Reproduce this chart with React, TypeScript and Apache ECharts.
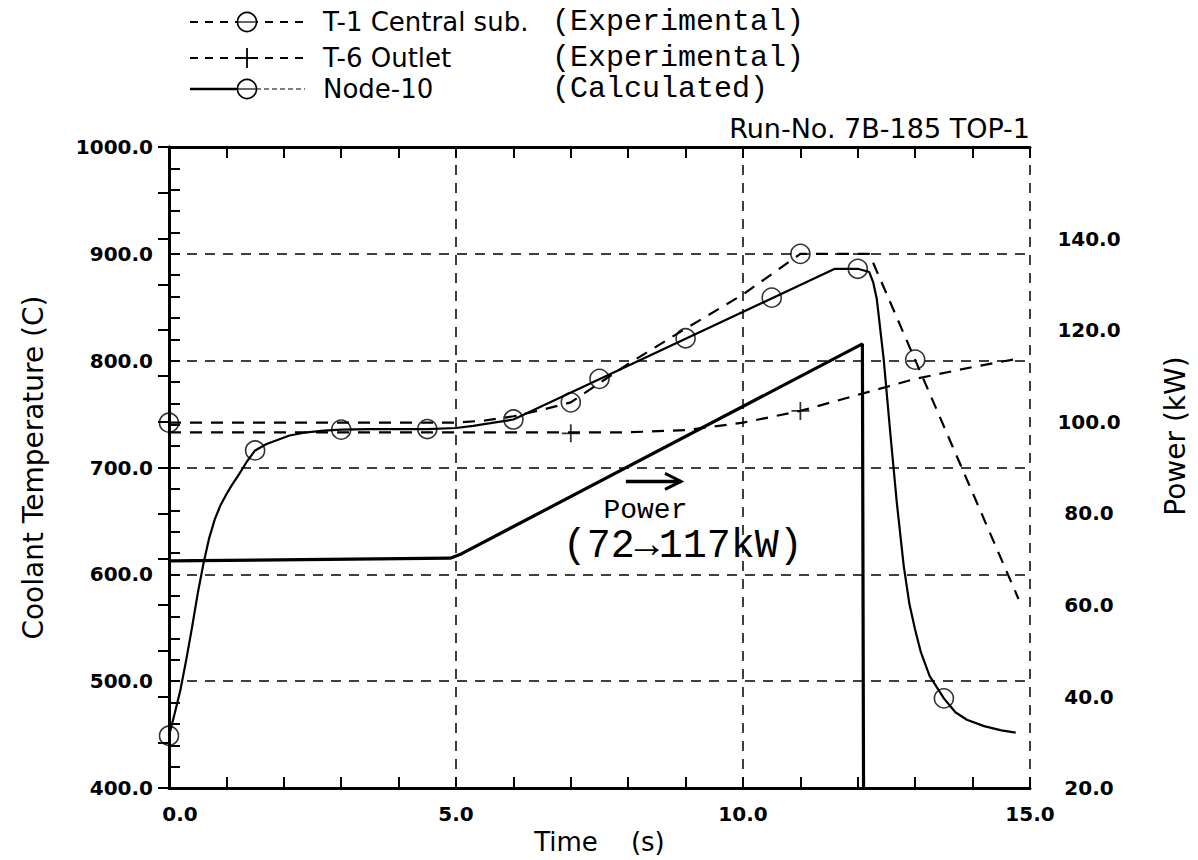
import React, { useEffect, useRef } from 'react';
import * as echarts from 'echarts';

// ---- data ----
const node10Times = [0, 0.1, 0.2, 0.3, 0.4, 0.5, 0.6, 0.7, 0.8, 0.9, 1.0, 1.1, 1.2, 1.35, 1.5, 1.7, 1.9, 2.1, 2.4, 2.7, 3.0, 3.5, 4.0, 4.5, 5.0, 5.3, 5.6, 6.0, 11.6, 12.0, 12.2, 12.27, 12.33, 12.45, 12.57, 12.68, 12.8, 12.9, 13.0, 13.1, 13.25, 13.5, 13.7, 13.9, 14.2, 14.5, 14.75];
const node10Temps = [449, 470, 492, 520, 550, 582, 610, 634, 652, 665, 675, 684, 692, 705, 716, 722, 726, 730, 733, 734.5, 735.5, 736, 736, 736, 737, 739, 741.5, 745, 886, 886, 883, 873, 858, 802, 730, 667, 608, 572, 548, 527, 505, 484, 471, 464, 458, 454, 452];
const node10MarkTimes = [0, 1.5, 3.0, 4.5, 6.0, 7.5, 9.0, 10.5, 12.0, 13.5];
const node10MarkTemps = [449, 716, 735.5, 736, 745, 783, 821, 859, 886, 484];

const t1Times = [0, 5.0, 5.5, 6.0, 6.5, 7.0, 8.0, 9.0, 10.0, 11.0, 12.2, 14.8];
const t1Temps = [742, 742, 744, 748, 754, 761, 797, 830, 862, 900, 900, 577];
const t1MarkTimes = [0, 7.0, 11.0, 13.0];
const t1MarkTemps = [742, 761, 900, 801];

const t6Times = [0, 8.0, 9.0, 10.0, 11.0, 12.0, 13.0, 14.0, 14.8];
const t6Temps = [733, 733, 735, 742, 753, 768, 783, 794, 802];
const t6MarkTimes = [7.0, 11.0];
const t6MarkTemps = [732, 753];

const powerTimes = [0, 4.9, 5.1, 12.08, 12.1];
const powerKW = [69.6, 70.2, 71.2, 117.0, 20];

const legendNames = ['T-1 Central sub.', 'T-6 Outlet', 'Node-10'];
const legendTags = ['(Experimental)', '(Experimental)', '(Calculated)'];
const runLabel = 'Run-No. 7B-185 TOP-1';

const pairs = (ts: number[], vs: number[]) => ts.map((t, i) => [t, vs[i]]);

export default function App() {
  const ref = useRef<HTMLDivElement>(null);
  useEffect(() => {
    const chart = echarts.init(ref.current!, null, { renderer: 'svg' });
    const black = '#000';
    const sans = 'DejaVu Sans';
    const labelFont = { fontFamily: sans, fontWeight: 'bold', fontSize: 20, color: black };
    const tick = { show: true, inside: true, length: 11, lineStyle: { color: black, width: 2 } };
    const minor = (n: number) => ({ show: true, splitNumber: n, length: 11, lineStyle: { color: black, width: 2 } });
    const dashedGrid = { show: true, lineStyle: { color: black, width: 1.5, type: [10, 8] } };
    const plus = 'path://M0,-10L0,10M-10,0L10,0';

    chart.setOption({
      animation: false,
      backgroundColor: '#fff',
      grid: { left: 169, right: 168, top: 147, bottom: 70, containLabel: false },
      xAxis: [
        {
          type: 'value', min: 0, max: 15, interval: 5, position: 'bottom',
          axisLine: { show: true, lineStyle: { color: black, width: 3 } },
          axisTick: tick, minorTick: minor(5),
          axisLabel: {
            ...labelFont, margin: 16,
            formatter: (v: number) => (v === 0 ? '{z|' + v.toFixed(1) + '}' : v.toFixed(1)),
            rich: { z: { ...labelFont, padding: [0, 0, 0, 22] } },
          },
          splitLine: dashedGrid,
          name: 'Time    (s)', nameLocation: 'middle', nameGap: 40,
          nameTextStyle: { fontFamily: sans, fontSize: 26, color: black },
        },
        {
          type: 'value', min: 0, max: 15, interval: 1, position: 'top',
          axisLine: { show: true, lineStyle: { color: black, width: 3 } },
          axisTick: tick, axisLabel: { show: false }, splitLine: { show: false },
        },
      ],
      yAxis: [
        {
          type: 'value', min: 400, max: 1000, interval: 100, position: 'left',
          axisLine: { show: true, lineStyle: { color: black, width: 3 } },
          axisTick: tick, minorTick: minor(5),
          axisLabel: { ...labelFont, margin: 16, formatter: (v: number) => v.toFixed(1) },
          splitLine: dashedGrid,
          name: 'Coolant Temperature (C)', nameLocation: 'middle', nameGap: 122,
          nameTextStyle: { fontFamily: sans, fontSize: 28, color: black },
        },
        {
          type: 'value', min: 20, max: 160, interval: 20, position: 'right',
          axisLine: { show: true, lineStyle: { color: black, width: 3 } },
          axisTick: tick, minorTick: minor(2),
          axisLabel: { ...labelFont, margin: 59, align: 'center', formatter: (v: number) => (v >= 160 ? '' : v.toFixed(1)) },
          splitLine: { show: false },
        },
      ],
      series: [
        {
          name: 'T-1 Central sub.', type: 'line', data: pairs(t1Times, t1Temps), showSymbol: false,
          lineStyle: { color: black, width: 2.2, type: [12, 9] }, z: 3,
        },
        {
          name: 'T-1 marks', type: 'scatter', data: pairs(t1MarkTimes, t1MarkTemps), symbol: 'circle', symbolSize: 19,
          itemStyle: { color: 'rgba(0,0,0,0)', borderColor: black, borderWidth: 1.6 }, z: 4,
        },
        {
          name: 'T-6 Outlet', type: 'line', data: pairs(t6Times, t6Temps), showSymbol: false,
          lineStyle: { color: black, width: 2.2, type: [12, 9] }, z: 3,
        },
        {
          name: 'T-6 marks', type: 'scatter', data: pairs(t6MarkTimes, t6MarkTemps), symbol: plus, symbolSize: 18,
          itemStyle: { color: 'rgba(0,0,0,0)', borderColor: black, borderWidth: 1.8 }, z: 4,
        },
        {
          name: 'Node-10', type: 'line', data: pairs(node10Times, node10Temps), showSymbol: false,
          lineStyle: { color: black, width: 2.2 }, z: 3,
        },
        {
          name: 'Node-10 marks', type: 'scatter', data: pairs(node10MarkTimes, node10MarkTemps), symbol: 'circle', symbolSize: 19,
          itemStyle: { color: 'rgba(0,0,0,0)', borderColor: black, borderWidth: 1.6 }, z: 4,
        },
        {
          name: 'Power', type: 'line', yAxisIndex: 1, data: pairs(powerTimes, powerKW), showSymbol: false,
          lineStyle: { color: black, width: 3.2 }, z: 3,
        },
      ],
    });

    const px = (t: number, v: number) => chart.convertToPixel({ xAxisIndex: 0, yAxisIndex: 0 }, [t, v]) as number[];
    const a0 = px(7.96, 687);
    const a1 = px(8.92, 687);
    const pw = px(8.3, 660);
    const pr = px(8.95, 626);

    const rows = [22, 58, 89];
    const legendEls: any[] = [];
    rows.forEach((y, i) => {
      if (i < 2) {
        legendEls.push({ type: 'line', shape: { x1: 190, y1: y, x2: 305, y2: y }, style: { stroke: black, lineWidth: 2, lineDash: [8, 7] } });
      } else {
        legendEls.push({ type: 'line', shape: { x1: 190, y1: y, x2: 238, y2: y }, style: { stroke: black, lineWidth: 2.4 } });
        legendEls.push({ type: 'line', shape: { x1: 256, y1: y, x2: 305, y2: y }, style: { stroke: black, lineWidth: 1.2, lineDash: [5, 3] } });
      }
      if (i === 1) {
        legendEls.push({ type: 'line', shape: { x1: 247, y1: y - 10, x2: 247, y2: y + 10 }, style: { stroke: black, lineWidth: 1.8 } });
        legendEls.push({ type: 'line', shape: { x1: 236, y1: y, x2: 258, y2: y }, style: { stroke: black, lineWidth: 1.8 } });
      } else {
        legendEls.push({ type: 'circle', shape: { cx: 247, cy: y, r: 9.5 }, style: { fill: '#fff', stroke: black, lineWidth: 1.6 } });
        legendEls.push({ type: 'line', shape: { x1: 238, y1: y, x2: 256, y2: y }, style: { stroke: black, lineWidth: 1.2 } });
      }
      legendEls.push({ type: 'text', x: 323, y, style: { text: legendNames[i], fontFamily: sans, fontSize: 26, fill: black, textVerticalAlign: 'middle', textAlign: 'left' } });
      legendEls.push({ type: 'text', x: 552, y, style: { text: legendTags[i], fontFamily: 'Liberation Mono', fontSize: 30, fill: black, textVerticalAlign: 'middle', textAlign: 'left' } });
    });

    chart.setOption({
      graphic: [
        ...legendEls,
        { type: 'text', x: 1030, y: 128, style: { text: runLabel, fontFamily: sans, fontSize: 27, fill: black, textAlign: 'right', textVerticalAlign: 'middle' } },
        { type: 'text', x: 1175, y: 436, rotation: Math.PI / 2, style: { text: 'Power (kW)', fontFamily: sans, fontSize: 28, fill: black, textAlign: 'center', textVerticalAlign: 'middle' } },
        { type: 'line', shape: { x1: a0[0], y1: a0[1], x2: a1[0], y2: a1[1] }, style: { stroke: black, lineWidth: 3.5 } },
        { type: 'polyline', shape: { points: [[a1[0] - 16, a1[1] - 8], [a1[0], a1[1]], [a1[0] - 16, a1[1] + 8]] }, style: { stroke: black, lineWidth: 3, fill: 'none' } },
        { type: 'text', x: pw[0], y: pw[1], style: { text: 'Power', fontFamily: 'Liberation Mono', fontSize: 28, fill: black, textAlign: 'center', textVerticalAlign: 'middle' } },
        { type: 'text', x: pr[0], y: pr[1], style: { text: '(72→117kW)', fontFamily: 'Liberation Mono', fontSize: 40, fill: black, textAlign: 'center', textVerticalAlign: 'middle' } },
      ],
    });

    return () => chart.dispose();
  }, []);
  return <div ref={ref} style={{ position: 'absolute', left: 0, top: 0, width: 1198, height: 860, background: '#fff' }} />;
}
